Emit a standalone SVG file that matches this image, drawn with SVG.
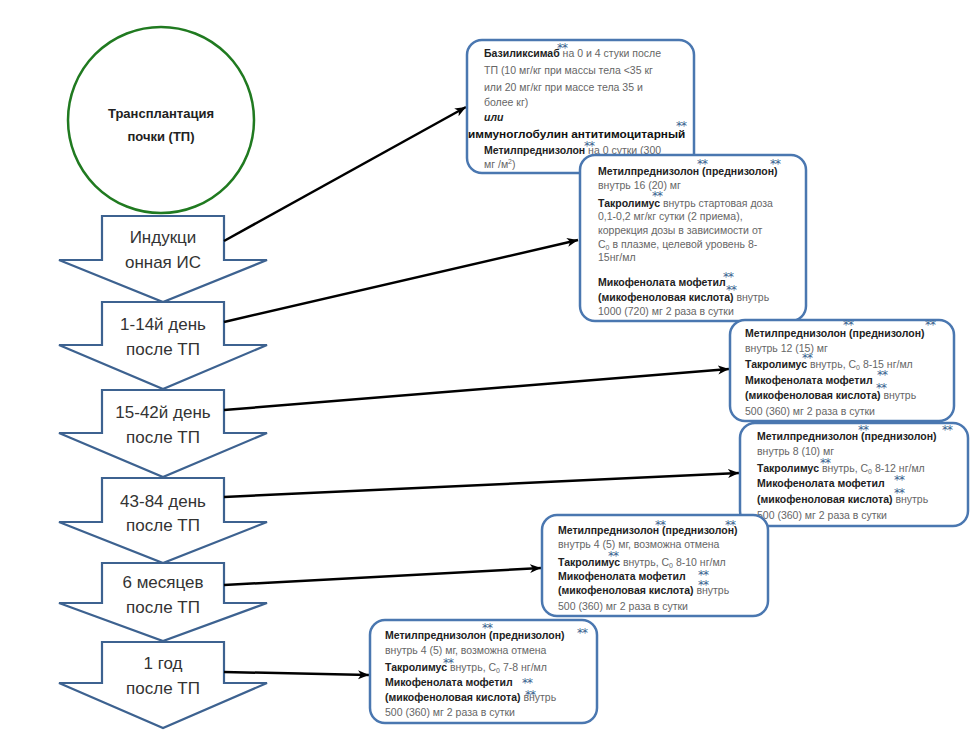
<svg xmlns="http://www.w3.org/2000/svg" width="973" height="748" viewBox="0 0 973 748">
<defs>
<style>
.stage{fill:#fff;stroke:#3d6290;stroke-width:2.2;stroke-linejoin:miter}
.stxt{font-family:"Liberation Sans",Arial,sans-serif;font-size:17px;fill:#333;text-anchor:middle}
.box{fill:#fff;stroke:#4a77b0;stroke-width:2.5}
.t{font-family:"Liberation Sans",Arial,sans-serif;font-size:10.5px;fill:#666}
.b{font-weight:bold;fill:#222}
.ast{font-family:"DejaVu Sans",sans-serif;font-size:12px;fill:#3a5f8f;letter-spacing:-1px}
.con{stroke:#000;stroke-width:2.5;fill:none}
</style>
<marker id="ah" markerUnits="userSpaceOnUse" markerWidth="12" markerHeight="10" refX="11" refY="5" orient="auto">
<path d="M0,0.5 L11,5 L0,9.5 L3,5 Z" fill="#000"/>
</marker>
</defs>
<rect width="973" height="748" fill="#fff"/>

<g id="transplant">
<circle cx="161" cy="120" r="93" fill="#fff" stroke="#207a20" stroke-width="2.5"/>
<text x="161" y="118" text-anchor="middle" font-family="Liberation Sans, Arial, sans-serif" font-size="13" font-weight="bold" fill="#222">Трансплантация</text>
<text x="161" y="141" text-anchor="middle" font-family="Liberation Sans, Arial, sans-serif" font-size="13" font-weight="bold" fill="#222">почки (ТП)</text>
</g>

<g id="stage1">
<path class="stage" d="M102,216 L224,216 L224,260 L267,260 L163,302 L59,260 L102,260 Z"/>
<text class="stxt" x="163" y="243">Индукци</text>
<text class="stxt" x="163" y="268">онная ИС</text>
</g>
<g id="stage2">
<path class="stage" d="M102,302 L224,302 L224,345 L267,345 L163,389 L59,345 L102,345 Z"/>
<text class="stxt" x="163" y="330">1-14й день</text>
<text class="stxt" x="163" y="355">после ТП</text>
</g>
<g id="stage3">
<path class="stage" d="M102,390 L224,390 L224,433 L267,433 L163,477 L59,433 L102,433 Z"/>
<text class="stxt" x="163" y="418">15-42й день</text>
<text class="stxt" x="163" y="443">после ТП</text>
</g>
<g id="stage4">
<path class="stage" d="M102,478 L224,478 L224,522 L267,522 L163,563 L59,522 L102,522 Z"/>
<text class="stxt" x="163" y="507">43-84 день</text>
<text class="stxt" x="163" y="531">после ТП</text>
</g>
<g id="stage5">
<path class="stage" d="M102,563 L224,563 L224,603 L267,603 L163,641 L59,603 L102,603 Z"/>
<text class="stxt" x="163" y="588">6 месяцев</text>
<text class="stxt" x="163" y="613">после ТП</text>
</g>
<g id="stage6">
<path class="stage" d="M102,642 L224,642 L224,683 L267,683 L163,728 L59,683 L102,683 Z"/>
<text class="stxt" x="163" y="669">1 год</text>
<text class="stxt" x="163" y="694">после ТП</text>
</g>

<g id="connectors">
<line class="con" x1="224" y1="241" x2="466" y2="107" marker-end="url(#ah)"/>
<line class="con" x1="224" y1="322" x2="578" y2="240" marker-end="url(#ah)"/>
<line class="con" x1="224" y1="410" x2="729" y2="369" marker-end="url(#ah)"/>
<line class="con" x1="224" y1="497" x2="739" y2="473" marker-end="url(#ah)"/>
<line class="con" x1="224" y1="585" x2="541" y2="568" marker-end="url(#ah)"/>
<line class="con" x1="224" y1="672" x2="369" y2="675" marker-end="url(#ah)"/>
</g>

<g id="box1">
<rect class="box" x="467" y="40" width="227" height="133" rx="15"/>
<text class="t" x="484" y="57"><tspan class="b">Базиликсимаб</tspan> на 0 и 4 стуки после</text>
<text class="ast" x="557" y="52">**</text>
<text class="t" x="484" y="74">ТП (10 мг/кг при массы тела &lt;35 кг</text>
<text class="t" x="484" y="91">или 20 мг/кг при массе тела 35 и</text>
<text class="t" x="484" y="106">более кг)</text>
<text class="t b" x="484" y="121" font-style="italic" font-size="11.5">или</text>
<text x="468" y="138" font-family="Liberation Sans, Arial, sans-serif" font-size="11.8" font-weight="bold" fill="#111">иммуноглобулин антитимоцитарный</text>
<text class="ast" x="676" y="130">**</text>
<text class="t" x="484" y="154"><tspan class="b">Метилпреднизолон</tspan> на 0 сутки (300</text>
<text class="ast" x="584" y="150">**</text>
<text class="t" x="484" y="168">мг /м<tspan font-size="7" dy="-4">2</tspan><tspan dy="4">)</tspan></text>
</g>

<g id="box2">
<rect class="box" x="580" y="155" width="226" height="166" rx="15"/>
<text class="t b" x="598" y="175">Метилпреднизолон (преднизолон)</text>
<text class="ast" x="697" y="168">**</text>
<text class="ast" x="770" y="168">**</text>
<text class="t" x="598" y="189">внутрь 16 (20) мг</text>
<text class="t" x="598" y="207"><tspan class="b">Такролимус</tspan> внутрь стартовая доза</text>
<text class="ast" x="652" y="200">**</text>
<text class="t" x="598" y="220">0,1-0,2 мг/кг сутки (2 приема),</text>
<text class="t" x="598" y="234">коррекция дозы в зависимости от</text>
<text class="t" x="598" y="248">C<tspan font-size="7" dy="2">0</tspan><tspan dy="-2"> в плазме, целевой уровень 8-</tspan></text>
<text class="t" x="598" y="261">15нг/мл</text>
<text class="t b" x="598" y="286">Микофенолата мофетил</text>
<text class="ast" x="723" y="281">**</text>
<text class="t" x="598" y="301"><tspan class="b">(микофеноловая кислота)</tspan> внутрь</text>
<text class="ast" x="726" y="294">**</text>
<text class="t" x="598" y="315">1000 (720) мг 2 раза в сутки</text>
</g>

<g id="box3">
<rect class="box" x="730" y="320" width="224" height="101" rx="15"/>
<text class="t b" x="745" y="337">Метилпреднизолон (преднизолон)</text>
<text class="ast" x="843" y="329">**</text>
<text class="ast" x="925" y="329">**</text>
<text class="t" x="745" y="352">внутрь 12 (15) мг</text>
<text class="t" x="745" y="368"><tspan class="b">Такролимус</tspan> внутрь, C<tspan font-size="7" dy="2">0</tspan><tspan dy="-2"> 8-15 нг/мл</tspan></text>
<text class="ast" x="802" y="362">**</text>
<text class="t b" x="745" y="384">Микофенолата мофетил</text>
<text class="ast" x="877" y="379">**</text>
<text class="t" x="745" y="399"><tspan class="b">(микофеноловая кислота)</tspan> внутрь</text>
<text class="ast" x="876" y="392">**</text>
<text class="t" x="745" y="415">500 (360) мг 2 раза в сутки</text>
</g>

<g id="box4">
<rect class="box" x="740" y="423" width="228" height="103" rx="15"/>
<text class="t b" x="757" y="440">Метилпреднизолон (преднизолон)</text>
<text class="ast" x="858" y="434">**</text>
<text class="ast" x="942" y="434">**</text>
<text class="t" x="757" y="455">внутрь 8 (10) мг</text>
<text class="t" x="757" y="472"><tspan class="b">Такролимус</tspan> внутрь, C<tspan font-size="7" dy="2">0</tspan><tspan dy="-2"> 8-12 нг/мл</tspan></text>
<text class="ast" x="820" y="467">**</text>
<text class="t b" x="757" y="487">Микофенолата мофетил</text>
<text class="ast" x="894" y="484">**</text>
<text class="t" x="757" y="503"><tspan class="b">(микофеноловая кислота)</tspan> внутрь</text>
<text class="ast" x="894" y="497">**</text>
<text class="t" x="757" y="519">500 (360) мг 2 раза в сутки</text>
</g>

<g id="box5">
<rect class="box" x="542" y="515" width="226" height="101" rx="15"/>
<text class="t b" x="558" y="534">Метилпреднизолон (преднизолон)</text>
<text class="ast" x="655" y="529">**</text>
<text class="ast" x="725" y="529">**</text>
<text class="t" x="558" y="548">внутрь 4 (5) мг, возможна отмена</text>
<text class="t" x="558" y="566"><tspan class="b">Такролимус</tspan> внутрь, C<tspan font-size="7" dy="2">0</tspan><tspan dy="-2"> 8-10 нг/мл</tspan></text>
<text class="ast" x="608" y="560">**</text>
<text class="t b" x="558" y="580">Микофенолата мофетил</text>
<text class="ast" x="698" y="579">**</text>
<text class="t" x="558" y="594"><tspan class="b">(микофеноловая кислота)</tspan> внутрь</text>
<text class="ast" x="698" y="589">**</text>
<text class="t" x="558" y="610">500 (360) мг 2 раза в сутки</text>
</g>

<g id="box6">
<rect class="box" x="370" y="620" width="227" height="103" rx="15"/>
<text class="t b" x="385" y="639">Метилпреднизолон (преднизолон)</text>
<text class="ast" x="482" y="632">**</text>
<text class="ast" x="577" y="637">**</text>
<text class="t" x="385" y="654">внутрь 4 (5) мг, возможна отмена</text>
<text class="t" x="385" y="671"><tspan class="b">Такролимус</tspan> внутрь, C<tspan font-size="7" dy="2">0</tspan><tspan dy="-2"> 7-8 нг/мл</tspan></text>
<text class="ast" x="443" y="667">**</text>
<text class="t b" x="385" y="686">Микофенолата мофетил</text>
<text class="ast" x="522" y="687">**</text>
<text class="t" x="385" y="701"><tspan class="b">(микофеноловая кислота)</tspan> внутрь</text>
<text class="ast" x="525" y="699">**</text>
<text class="t" x="385" y="716">500 (360) мг 2 раза в сутки</text>
</g>
</svg>
